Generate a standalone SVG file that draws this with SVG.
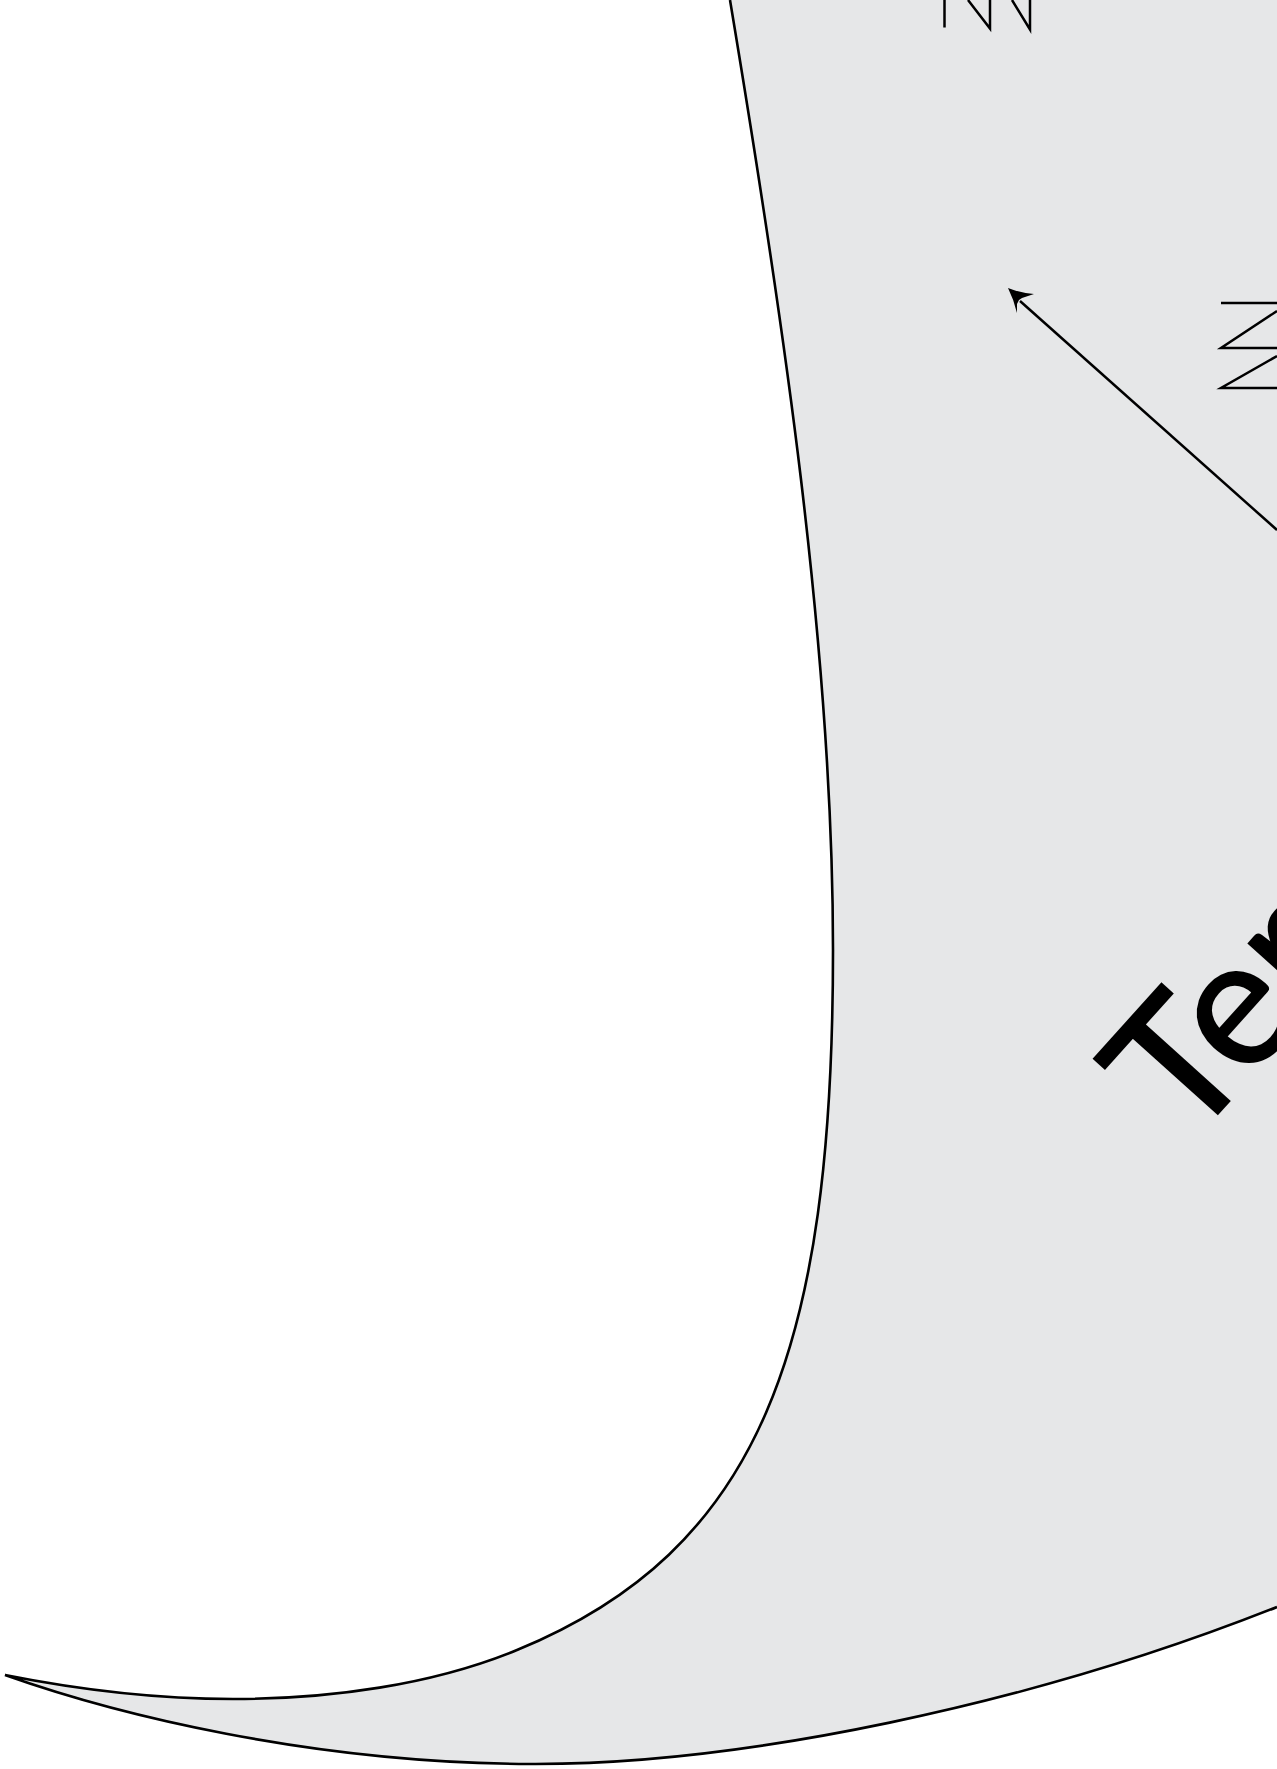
<svg xmlns="http://www.w3.org/2000/svg" width="1277" height="1769" viewBox="0 0 1277 1769">
<style>
.band{fill:#e6e7e8;stroke:none}
.edge{fill:none;stroke:#000;stroke-width:2.6;stroke-linejoin:miter;stroke-miterlimit:4}
.thin{fill:none;stroke:#000;stroke-width:2.5;stroke-linejoin:miter;stroke-miterlimit:12}
.big{font-family:"Lato","Liberation Sans",sans-serif;font-size:180px;fill:#000;stroke:#000;stroke-width:2}
</style>
<rect width="1277" height="1769" fill="#fff"/>
<g id="band">
<path class="band" d="M730,0C782,312 833,650 833,950C833,1350 760,1550 517,1650C432,1685 330,1699 233,1699C160,1699 80,1690 5,1675C115,1714 310,1763 530,1764C740,1765 1030,1705 1277,1607V0Z"/>
<path class="edge" d="M730,0C782,312 833,650 833,950C833,1350 760,1550 517,1650C432,1685 330,1699 233,1699C160,1699 80,1690 5,1675C115,1714 310,1763 530,1764C740,1765 1030,1705 1277,1607"/>
</g>
<g id="connectors">
<path class="thin" d="M1277,530L1020,301"/>
<path d="M1008,288Q1020,293 1034,294L1022,298L1019,300L1017,304L1017,313Q1014,300 1008,288Z" fill="#000"/>
</g>
<g id="fragments">
<path class="thin" d="M944.5,0V27.5"/>
<path class="thin" d="M968,0L990,28.5V0"/>
<path class="thin" d="M1012,0L1030,29.5V0"/>
<path class="thin" d="M1221,303H1277"/>
<path class="thin" d="M1277,311L1221,348H1277"/>
<path class="thin" d="M1277,356L1221,388H1277"/>
</g>
<g id="label">
<text class="big" transform="translate(1188,1147) rotate(-48)">Ter</text>
</g>
</svg>
